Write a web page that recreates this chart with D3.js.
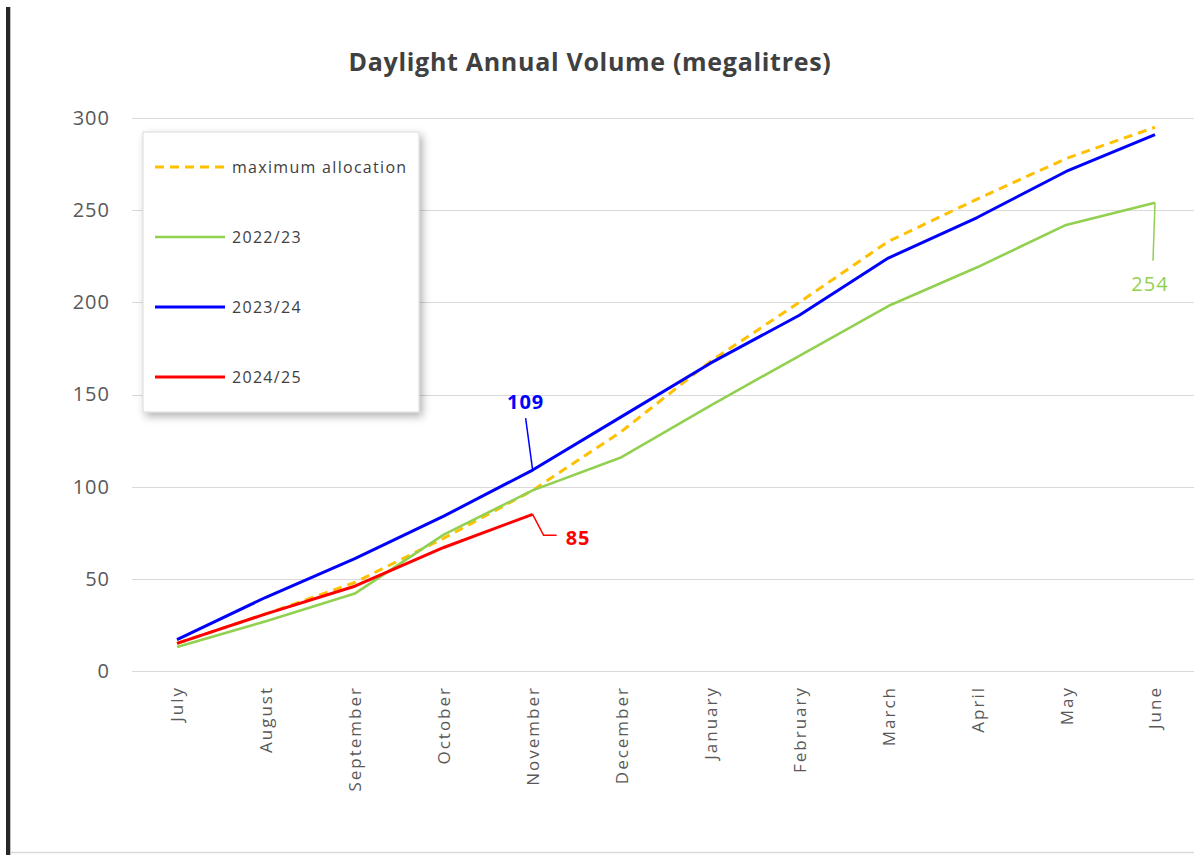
<!DOCTYPE html>
<html>
<head>
<meta charset="utf-8">
<script src="https://cdn.jsdelivr.net/npm/d3@7"></script>
<style>
  html, body { margin: 0; padding: 0; background: #fff; }
  svg { display: block; font-family: "Open Sans", sans-serif; }
</style>
</head>
<body>
<div id="chart"></div>
<script>
// months of the water year
const months = ["July", "August", "September", "October", "November", "December",
                "January", "February", "March", "April", "May", "June"];

const yTicks = [0, 50, 100, 150, 200, 250, 300];

// cumulative volumes, megalitres
const maxAllocation = [15, 31, 48, 72, 98, 130, 168, 200, 233, 256, 278, 295];
const y2022 = [13, 27, 42, 74, 98, 116, 144, 171, 198, 219, 242, 254];
const y2023 = [17, 40, 61, 84, 109, 138, 167, 193, 224, 246, 271, 291];
const y2024 = [15, 31, 46, 67, 85];

const series = [
    {name: "maximum allocation", values: maxAllocation, color: "#FFC000", width: 3, dash: "9,6"},
    {name: "2022/23", values: y2022, color: "#92D050", width: 2.6, dash: null},
    {name: "2023/24", values: y2023, color: "#0000FF", width: 3, dash: null},
    {name: "2024/25", values: y2024, color: "#FF0000", width: 3, dash: null}
];

const width = 1194, height = 855;
const margin = {top: 118, right: -6, bottom: 184, left: 132};

const svg = d3.select("#chart").append("svg")
    .attr("width", width)
    .attr("height", height);

// frame: dark left edge, light bottom edge
svg.append("rect")
    .attr("x", 6).attr("y", 7).attr("width", 4).attr("height", height - 7)
    .attr("fill", "#262626");
svg.append("line")
    .attr("x1", 10.5).attr("x2", 10.5).attr("y1", 7).attr("y2", height)
    .attr("stroke", "#bfbfbf").attr("stroke-width", 1);
svg.append("line")
    .attr("x1", 11).attr("x2", width).attr("y1", 852.5).attr("y2", 852.5)
    .attr("stroke", "#d9d9d9").attr("stroke-width", 1.5);

const x = d3.scalePoint()
    .domain(months)
    .range([177, 1155]);

const y = d3.scaleLinear()
    .domain([0, 300])
    .range([height - margin.bottom, margin.top]);

// title
svg.append("text")
    .attr("x", 590)
    .attr("y", 71)
    .attr("text-anchor", "middle")
    .attr("font-size", 25)
    .attr("font-weight", 700)
    .attr("letter-spacing", 0.7)
    .attr("fill", "#404040")
    .text("Daylight Annual Volume (megalitres)");

// gridlines
svg.append("g")
    .selectAll("line")
    .data(yTicks)
    .enter().append("line")
        .attr("x1", margin.left)
        .attr("x2", width)
        .attr("y1", d => Math.round(y(d)) + 0.5)
        .attr("y2", d => Math.round(y(d)) + 0.5)
        .attr("stroke", "#d9d9d9")
        .attr("stroke-width", 1);

// y axis labels
const yAxis = svg.append("g")
    .attr("transform", `translate(${margin.left - 22},0)`)
    .call(d3.axisLeft(y).tickValues(yTicks).tickSize(0).tickPadding(0));
yAxis.select(".domain").remove();
yAxis.selectAll("text")
    .attr("font-family", "Open Sans, sans-serif")
    .attr("font-size", 20)
    .attr("letter-spacing", 1)
    .attr("fill", "#595959");

// x axis labels, rotated
const xAxis = svg.append("g")
    .attr("transform", `translate(0,${y(0) + 15})`)
    .call(d3.axisBottom(x).tickSize(0).tickPadding(0));
xAxis.select(".domain").remove();
xAxis.selectAll("text")
    .attr("font-family", "Open Sans, sans-serif")
    .attr("font-size", 17)
    .attr("letter-spacing", 2)
    .attr("fill", "#595959")
    .attr("text-anchor", "end")
    .attr("dy", "0.35em")
    .attr("transform", "rotate(-90)");

// lines
const line = d3.line()
    .x((d, i) => x(months[i]))
    .y(d => y(d));

svg.append("g")
    .selectAll("path")
    .data(series)
    .enter().append("path")
        .attr("d", d => line(d.values))
        .attr("fill", "none")
        .attr("stroke", d => d.color)
        .attr("stroke-width", d => d.width)
        .attr("stroke-dasharray", d => d.dash)
        .attr("stroke-linejoin", "round");

// data labels with leader lines
const labels = [
    {series: 2, index: 4, text: "109", bold: true, path: [[0, 0], [-7, -52]], tx: -7, ty: -61, anchor: "middle"},
    {series: 3, index: 4, text: "85", bold: true, path: [[0, 0], [11, 21], [24, 21]], tx: 33, ty: 31, anchor: "start"},
    {series: 1, index: 11, text: "254", bold: false, path: [[0, 0], [-2, 58]], tx: -5, ty: 88, anchor: "middle"}
];

labels.forEach(l => {
    const s = series[l.series];
    const px = x(months[l.index]);
    const py = y(s.values[l.index]);
    svg.append("path")
        .attr("d", d3.line()(l.path.map(p => [px + p[0], py + p[1]])))
        .attr("fill", "none")
        .attr("stroke", s.color)
        .attr("stroke-width", 1.5);
    svg.append("text")
        .attr("x", px + l.tx)
        .attr("y", py + l.ty)
        .attr("text-anchor", l.anchor)
        .attr("font-size", 20)
        .attr("letter-spacing", 1)
        .attr("font-weight", l.bold ? 700 : 400)
        .attr("fill", s.color)
        .text(l.text);
});

// legend
const legend = svg.append("g").attr("transform", "translate(143,132)");
const defs = svg.append("defs");
const shadow = defs.append("filter").attr("id", "shadow")
    .attr("x", "-10%").attr("y", "-10%").attr("width", "130%").attr("height", "130%");
shadow.append("feDropShadow")
    .attr("dx", 3).attr("dy", 4).attr("stdDeviation", 4)
    .attr("flood-color", "#000").attr("flood-opacity", 0.3);

legend.append("rect")
    .attr("width", 276)
    .attr("height", 280)
    .attr("fill", "#fff")
    .attr("stroke", "#d9d9d9")
    .attr("filter", "url(#shadow)");

const entry = legend.selectAll(".entry")
    .data(series)
    .enter().append("g")
        .attr("class", "entry")
        .attr("transform", (d, i) => `translate(0,${35 + i * 70})`);

entry.append("line")
    .attr("x1", 12).attr("x2", 82)
    .attr("stroke", d => d.color)
    .attr("stroke-width", d => d.width)
    .attr("stroke-dasharray", d => d.dash);

entry.append("text")
    .attr("x", 89)
    .attr("dy", "0.35em")
    .attr("font-size", 16)
    .attr("letter-spacing", 1.3)
    .attr("fill", "#404040")
    .text(d => d.name);
</script>
</body>
</html>
